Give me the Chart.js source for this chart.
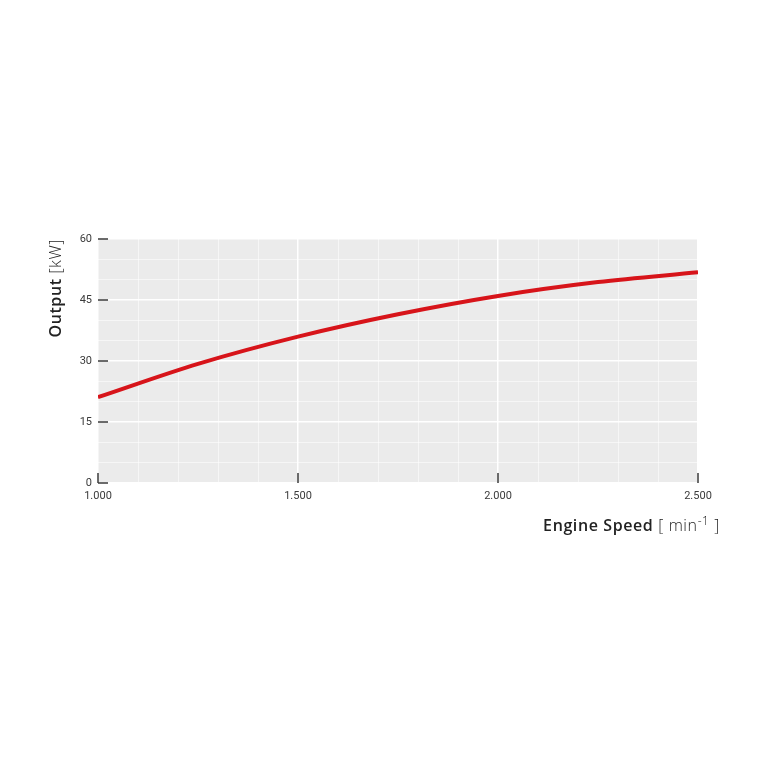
<!DOCTYPE html>
<html>
<head>
<meta charset="utf-8">
<script src="https://cdn.jsdelivr.net/npm/chart.js@4"></script>
<style>
  html, body { margin: 0; padding: 0; background: #fff; }
  #wrap { width: 768px; height: 768px; }
</style>
</head>
<body>
<div id="wrap"><canvas id="powerChart" width="768" height="768"></canvas></div>
<script>
const rpm = [1000, 1250, 1500, 1750, 2000, 2250, 2500];
const outputKW = [21.1, 29.3, 36.0, 41.5, 46.0, 49.4, 51.8];
const xTicks = [1000, 1500, 2000, 2500];
const yTicks = [0, 15, 30, 45, 60];

const RED = '#d7141a';
const INK = '#3a3a3a';
const FONT = 'Roboto, "DejaVu Sans", sans-serif';
const TITLE_FONT = '"Open Sans", Roboto, sans-serif';

const fmtRpm = v => v >= 1000 ? Math.floor(v / 1000) + '.' + String(v % 1000).padStart(3, '0') : String(v);

// grey plot background
const areaFill = {
  id: 'areaFill',
  beforeDraw(chart) {
    const { ctx, chartArea: a } = chart;
    ctx.save();
    ctx.fillStyle = '#ebebeb';
    ctx.fillRect(a.left, a.top, a.right - a.left, a.bottom - a.top);
    ctx.restore();
  },
};

// short dark tick marks drawn inside the plot edges, plus axis titles
const marksAndTitles = {
  id: 'marksAndTitles',
  afterDraw(chart) {
    const { ctx, chartArea: a, scales } = chart;
    ctx.save();
    ctx.strokeStyle = INK;
    ctx.lineWidth = 1.5;
    yTicks.forEach(v => {
      const y = scales.y.getPixelForValue(v);
      ctx.beginPath(); ctx.moveTo(a.left, y); ctx.lineTo(a.left + 10, y); ctx.stroke();
    });
    xTicks.forEach(v => {
      const x = scales.x.getPixelForValue(v);
      ctx.beginPath(); ctx.moveTo(x, a.bottom); ctx.lineTo(x, a.bottom - 10); ctx.stroke();
    });

    if ('letterSpacing' in ctx) ctx.letterSpacing = '0.6px';

    // y title, reads bottom to top, ends at plot top
    ctx.fillStyle = '#222';
    ctx.textBaseline = 'middle';
    ctx.translate(56, a.top);
    ctx.rotate(-Math.PI / 2);
    ctx.font = '300 16px ' + TITLE_FONT;
    const unitY = ' [kW]';
    const wUnitY = ctx.measureText(unitY).width;
    ctx.textAlign = 'right';
    ctx.fillText(unitY, 0, 0);
    ctx.font = '600 16px ' + TITLE_FONT;
    ctx.fillText('Output', -wUnitY, 0);
    ctx.setTransform(1, 0, 0, 1, 0, 0);

    // x title, right aligned
    ctx.textBaseline = 'alphabetic';
    ctx.textAlign = 'left';
    const base = 531;
    const parts = [
      { t: 'Engine Speed', f: '600 16px ' + TITLE_FONT, dy: 0 },
      { t: ' [ min', f: '300 16px ' + TITLE_FONT, dy: 0 },
      { t: '-1', f: '300 12px ' + TITLE_FONT, dy: -6 },
      { t: ' ]', f: '300 16px ' + TITLE_FONT, dy: 0 },
    ];
    let total = 0;
    parts.forEach(p => { ctx.font = p.f; p.w = ctx.measureText(p.t).width; total += p.w; });
    let x = 720 - total;
    parts.forEach(p => { ctx.font = p.f; ctx.fillText(p.t, x, base + p.dy); x += p.w; });
    ctx.restore();
  },
};

new Chart(document.getElementById('powerChart'), {
  type: 'line',
  data: {
    datasets: [{
      data: rpm.map((r, i) => ({ x: r, y: outputKW[i] })),
      borderColor: RED,
      borderWidth: 4,
      pointRadius: 0,
      cubicInterpolationMode: 'monotone',
      fill: false,
    }],
  },
  options: {
    responsive: false,
    animation: false,
    layout: { padding: { left: 48, top: 239, right: 70, bottom: 255 } },
    plugins: { legend: { display: false }, tooltip: { enabled: false } },
    scales: {
      x: {
        type: 'linear', min: 1000, max: 2500,
        afterFit: s => { s.height = 30; },
        border: { display: false },
        grid: {
          drawTicks: false,
          color: c => c.tick && c.tick.value % 500 === 0 ? '#ffffff' : 'rgba(255,255,255,0.55)',
          lineWidth: c => c.tick && c.tick.value % 500 === 0 ? 1.5 : 1,
        },
        ticks: {
          stepSize: 100, autoSkip: false, maxRotation: 0, padding: 7,
          color: INK, font: { family: FONT, size: 11 },
          callback: v => v % 500 === 0 ? fmtRpm(v) : '',
        },
      },
      y: {
        min: 0, max: 60,
        afterFit: s => { s.width = 50; },
        border: { display: false },
        grid: {
          drawTicks: false,
          color: c => c.tick && c.tick.value % 15 === 0 ? '#ffffff' : 'rgba(255,255,255,0.55)',
          lineWidth: c => c.tick && c.tick.value % 15 === 0 ? 1.5 : 1,
        },
        ticks: {
          stepSize: 5, autoSkip: false, padding: 6,
          color: INK, font: { family: FONT, size: 11 },
          callback: v => v % 15 === 0 ? String(v) : '',
        },
      },
    },
  },
  plugins: [areaFill, marksAndTitles],
});
</script>
</body>
</html>
